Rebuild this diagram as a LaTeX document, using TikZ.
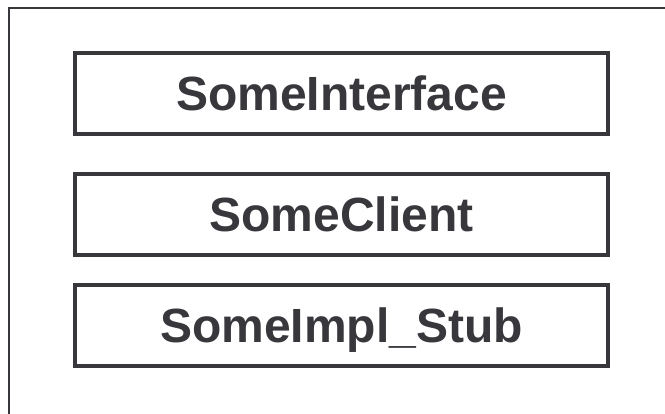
\documentclass[tikz,border=0pt]{standalone}
\usepackage{fontspec}
\setmainfont{Liberation Sans}
\definecolor{ink}{HTML}{38383C}
\begin{document}
\begin{tikzpicture}[x=1pt,y=-1pt,
  frame/.style={draw=ink,line width=2pt},
  classbox/.style={draw=ink,line width=4pt,minimum width=533pt,minimum height=81pt,
    inner sep=0pt,text height=34pt,text depth=0pt,
    font=\fontsize{48}{56}\selectfont\bfseries,text=ink}]
\useasboundingbox (0,0) rectangle (665,414);
% outer frame, only its top and left edges fall inside the page
\begin{scope}
  \clip (0,0) rectangle (665,414);
  \draw[frame] (9,8) rectangle (700,450);
\end{scope}
\node[classbox] (iface) at (341.5,93.5) {SomeInterface};
\node[classbox] (client) at (341.5,214.5) {SomeClient};
\node[classbox] (stub) at (341.5,325.5) {SomeImpl\_Stub};
\end{tikzpicture}
\end{document}
